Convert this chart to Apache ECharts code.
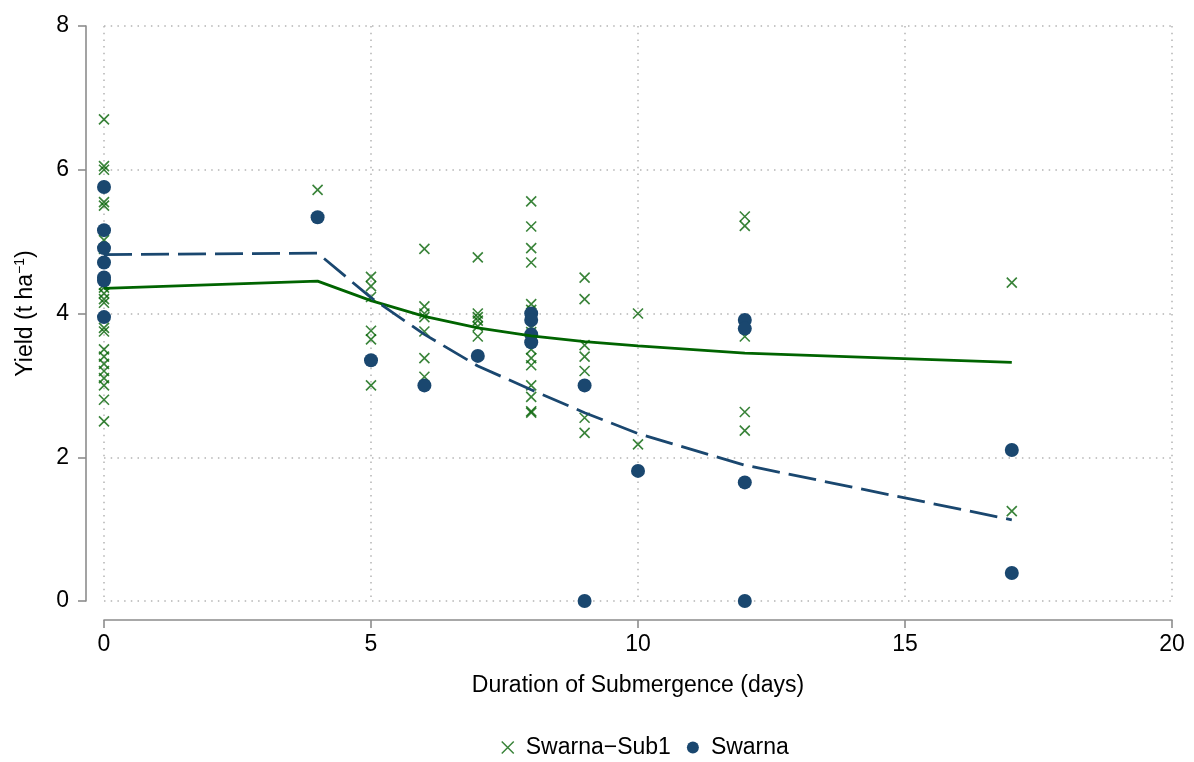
<!DOCTYPE html>
<html>
<head>
<meta charset="utf-8">
<script src="https://cdn.jsdelivr.net/npm/echarts@6/dist/echarts.min.js"></script>
<style>
html,body{margin:0;padding:0;background:#fff;}
#chart{width:1194px;height:762px;}
</style>
</head>
<body>
<div id="chart"></div>
<script>
// ---- data ----
var xTicks = [0, 5, 10, 15, 20];
var yTicks = [0, 2, 4, 6, 8];

var sub1Days = [
  0,0,0,0,0,0,0,0,0,0,0,0,0,0,0,0,0,0,0,0,0,0,
  4,
  5,5,5,5,5,5,
  6,6,6,6,6,6,6,
  7,7,7,7,7,7,
  8,8,8,8,8,8,8,8,8,8,8,8,8,8,8,8,
  9,9,9,9,9,9,9,
  10,10,
  12,12,12,12,12,
  17,17
];
var sub1Yield = [
  6.7,6.05,6.0,5.55,5.5,5.02,4.9,4.4,4.36,4.28,4.2,4.15,3.8,3.75,3.5,3.4,3.3,3.2,3.1,3.0,2.8,2.5,
  5.72,
  4.51,4.38,4.23,3.76,3.64,3.0,
  4.9,4.1,4.0,3.95,3.75,3.38,3.12,
  4.78,4.0,3.95,3.9,3.82,3.68,
  5.56,5.21,4.91,4.71,4.13,4.05,3.8,3.74,3.66,3.5,3.38,3.28,3.0,2.84,2.64,2.62,
  4.5,4.2,3.56,3.4,3.2,2.55,2.34,
  4.0,2.18,
  5.35,5.22,3.68,2.63,2.37,
  4.43,1.25
];

var swarnaDays = [0,0,0,0,0,0,0, 4, 5, 6, 7, 8,8,8,8, 9,9, 10, 12,12,12,12, 17,17];
var swarnaYield = [5.76,5.16,4.91,4.71,4.5,4.46,3.95, 5.34, 3.35, 3.0, 3.41, 4.0,3.91,3.71,3.6, 3.0,0.0, 1.81, 3.91,3.79,1.65,0.0, 2.1,0.39];

var fitDays = [0, 4, 5, 6, 7, 8, 9, 10, 12, 17];
var sub1Fit = [4.35, 4.45, 4.18, 3.96, 3.80, 3.69, 3.61, 3.55, 3.45, 3.32];
var swarnaFit = [4.82, 4.84, 4.22, 3.71, 3.27, 2.94, 2.62, 2.33, 1.89, 1.13];

function zip(a, b) { return a.map(function (v, i) { return [v, b[i]]; }); }

var GREEN_M = '#086408';
var GREEN_L = '#006400';
var NAVY = '#1a476f';
var CROSS = 'path://M0,0L10,10M10,0L0,10';
var FONT = '"Liberation Sans", Arial, Helvetica, sans-serif';
var FS = 23;

var chart = echarts.init(document.getElementById('chart'), null, {renderer: 'canvas'});
var option = {
  backgroundColor: '#ffffff',
  animation: false,
  textStyle: {fontFamily: FONT},
  grid: {left: 104, right: 22, top: 26, bottom: 161, containLabel: false},
  xAxis: {
    type: 'value', min: 0, max: 20, interval: 5, offset: 19,
    name: 'Duration of Submergence (days)', nameLocation: 'middle', nameGap: 54,
    nameTextStyle: {fontSize: FS, color: '#000', fontFamily: FONT},
    axisLine: {show: true, onZero: false, lineStyle: {color: '#8c8c8c', width: 1.6}},
    axisTick: {show: true, length: 8, lineStyle: {color: '#8c8c8c', width: 1.6}},
    axisLabel: {fontSize: FS, color: '#000', margin: 13, fontFamily: FONT,
      formatter: function (v) { return xTicks.indexOf(v) >= 0 ? String(v) : ''; }},
    splitLine: {show: true, lineStyle: {color: '#b4b4b4', width: 1.5, type: [1.5, 5.2]}}
  },
  yAxis: {
    type: 'value', min: 0, max: 8, interval: 2, offset: 18,
    name: '{a|Yield (t ha}{s|−1}{a|)}', nameLocation: 'middle', nameGap: 47,
    nameTextStyle: {color: '#000', fontFamily: FONT,
      rich: {a: {fontSize: FS, color: '#000', fontFamily: FONT},
             s: {fontSize: 14, color: '#000', fontFamily: FONT, verticalAlign: 'top', padding: [0, 0, 12, 0]}}},
    axisLine: {show: true, onZero: false, lineStyle: {color: '#8c8c8c', width: 1.6}},
    axisTick: {show: true, length: 8, lineStyle: {color: '#8c8c8c', width: 1.6}},
    axisLabel: {fontSize: FS, color: '#000', margin: 17, fontFamily: FONT,
      formatter: function (v) { return yTicks.indexOf(v) >= 0 ? String(v) : ''; }},
    splitLine: {show: true, lineStyle: {color: '#b4b4b4', width: 1.5, type: [1.5, 5.2]}}
  },
  legend: {
    bottom: -2, left: 496, itemGap: 16,
    textStyle: {fontSize: FS, color: '#000', fontFamily: FONT, padding: [0, 0, 0, 7]},
    data: [
      {name: 'Swarna−Sub1', icon: CROSS, itemStyle: {color: GREEN_M, borderColor: GREEN_M, borderWidth: 1.5}},
      {name: 'Swarna', icon: 'circle'}
    ],
    itemWidth: 12, itemHeight: 12
  },
  series: [
    {
      name: 'Swarna−Sub1', type: 'scatter', symbol: CROSS, symbolSize: 10,
      itemStyle: {color: GREEN_M, borderColor: GREEN_M, borderWidth: 1.6},
      data: zip(sub1Days, sub1Yield), z: 2
    },
    {
      name: 'Swarna', type: 'scatter', symbol: 'circle', symbolSize: 14,
      itemStyle: {color: NAVY, opacity: 1},
      data: zip(swarnaDays, swarnaYield), z: 3
    },
    {
      name: 'fitSub1', type: 'line', symbol: 'none', smooth: false,
      lineStyle: {color: GREEN_L, width: 2.8},
      data: zip(fitDays, sub1Fit), z: 4
    },
    {
      name: 'fitSwarna', type: 'line', symbol: 'none', smooth: false,
      lineStyle: {color: NAVY, width: 2.8, type: [28, 9]},
      data: zip(fitDays, swarnaFit), z: 4
    }
  ]
};
chart.setOption(option);
</script>
</body>
</html>
